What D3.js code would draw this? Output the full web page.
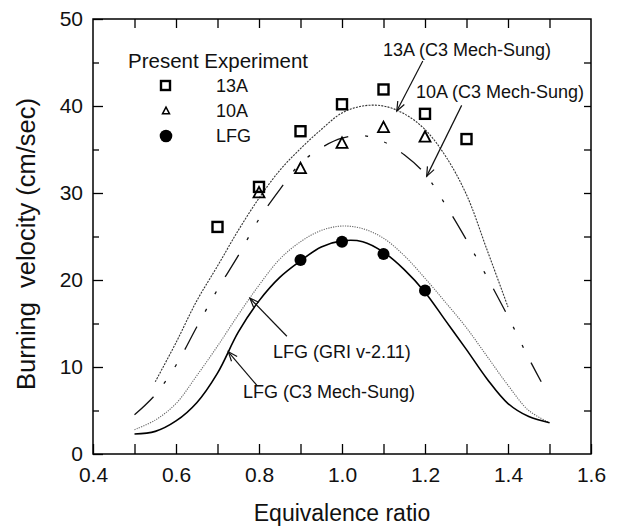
<!DOCTYPE html>
<html>
<head>
<meta charset="utf-8">
<script src="https://cdn.jsdelivr.net/npm/d3@7"></script>
<style>
  body { margin: 0; background: #fff; }
  svg { display: block; font-family: Arial, 'Liberation Sans', Helvetica, sans-serif; }
  .frame { fill: none; stroke: #000; stroke-width: 1.5px; }
  .axis path { display: none; }
  .axis line { stroke: #000; stroke-width: 1.3px; }
  .axis text { font-size: 21px; fill: #111; }
  .curve { fill: none; }
  .note { font-size: 18px; fill: #111; }
  .arrow { stroke: #111; stroke-width: 1.2px; fill: none; }
</style>
</head>
<body>
<svg id="chart" width="617" height="531"></svg>
<script>
// model curves (C3 Mech-Sung / GRI)
const phiLFG = [0.50, 0.55, 0.60, 0.65, 0.70, 0.75, 0.80, 0.85, 0.90, 0.95, 1.00,
                1.05, 1.10, 1.15, 1.20, 1.25, 1.30, 1.35, 1.40, 1.45, 1.50];
const lfgC3  = [2.3, 2.6, 3.8, 5.9, 9.3, 14.0, 17.6, 20.3, 22.2, 23.8, 24.5,
                24.4, 23.2, 21.2, 18.6, 15.3, 12.0, 8.6, 5.8, 4.3, 3.6];
const lfgGRI = [2.8, 3.9, 5.8, 9.0, 12.4, 16.0, 19.4, 22.4, 24.4, 25.7, 26.2,
                25.9, 24.8, 22.8, 20.2, 17.4, 14.5, 11.2, 7.9, 5.0, 3.6];

const phi13A = [0.55, 0.60, 0.65, 0.70, 0.75, 0.80, 0.85, 0.90, 0.95, 1.00,
                1.05, 1.10, 1.15, 1.20, 1.25, 1.30, 1.35, 1.40];
const c3_13A = [8.3, 12.8, 17.6, 21.6, 25.7, 29.4, 32.6, 35.1, 37.3, 39.2,
                40.0, 40.0, 39.1, 37.3, 34.2, 29.8, 23.4, 16.9];

const phi10A = [0.50, 0.55, 0.60, 0.65, 0.70, 0.75, 0.80, 0.85, 0.90, 0.95, 1.00,
                1.05, 1.10, 1.15, 1.20, 1.25, 1.30, 1.35, 1.40, 1.45, 1.48];
const c3_10A = [4.5, 6.8, 10.2, 14.6, 18.9, 22.8, 27.0, 30.4, 33.4, 35.2, 36.3,
                36.6, 35.9, 34.4, 32.2, 28.6, 24.6, 20.3, 15.8, 11.0, 8.3];

// present experiment
const phiExp13A = [0.7, 0.8, 0.9, 1.0, 1.1, 1.2, 1.3];
const exp13A    = [26.1, 30.7, 37.1, 40.2, 41.9, 39.1, 36.2];
const phiExp10A = [0.8, 0.9, 1.0, 1.1, 1.2];
const exp10A    = [30.0, 32.8, 35.7, 37.5, 36.4];
const phiExpLFG = [0.9, 1.0, 1.1, 1.2];
const expLFG    = [22.3, 24.4, 23.0, 18.8];

const xTicks = [0.4, 0.5, 0.6, 0.7, 0.8, 0.9, 1.0, 1.1, 1.2, 1.3, 1.4, 1.5, 1.6];
const yMajor = [0, 10, 20, 30, 40, 50];
const yMinor = [5, 15, 25, 35, 45];
const yAll   = [0, 5, 10, 15, 20, 25, 30, 35, 40, 45, 50];

const margin = { top: 19, left: 93 };
const width = 498, height = 435;

const svg = d3.select('#chart');
const g = svg.append('g').attr('transform', `translate(${margin.left},${margin.top})`);

const x = d3.scaleLinear().domain([0.4, 1.6]).range([0, width]);
const y = d3.scaleLinear().domain([0, 50]).range([height, 0]);

const zip = (xs, ys) => xs.map((v, i) => [v, ys[i]]);
const line = d3.line()
    .x(d => x(d[0]))
    .y(d => y(d[1]))
    .curve(d3.curveCatmullRom.alpha(0.5));

// axes, ticks pointing inward
const evenLabel = d => (Math.round(d * 10) % 2 === 0 ? d3.format('.1f')(d) : '');

g.append('g').attr('class', 'axis')
    .attr('transform', `translate(0,${height})`)
    .call(d3.axisBottom(x).tickValues(xTicks).tickFormat(evenLabel)
        .tickSizeInner(-10).tickSizeOuter(0).tickPadding(13));

g.append('g').attr('class', 'axis')
    .call(d3.axisTop(x).tickValues(xTicks.slice(1, -1)).tickFormat('')
        .tickSizeInner(-9).tickSizeOuter(0));

g.append('g').attr('class', 'axis')
    .call(d3.axisLeft(y).tickValues(yMajor).tickFormat(d3.format('d'))
        .tickSizeInner(-10).tickSizeOuter(0).tickPadding(10));

g.append('g').attr('class', 'axis')
    .call(d3.axisLeft(y).tickValues(yMinor).tickFormat('')
        .tickSizeInner(-6).tickSizeOuter(0));

g.append('g').attr('class', 'axis')
    .attr('transform', `translate(${width},0)`)
    .call(d3.axisRight(y).tickValues(yAll.slice(1, -1)).tickFormat('')
        .tickSizeInner(-7).tickSizeOuter(0));

g.append('rect').attr('class', 'frame')
    .attr('width', width).attr('height', height);

// axis titles
svg.append('text')
    .attr('x', margin.left + width / 2).attr('y', 521)
    .attr('text-anchor', 'middle')
    .style('font-size', '23px').style('fill', '#111')
    .text('Equivalence ratio');

svg.append('text')
    .attr('transform', 'translate(35,244) rotate(-90)')
    .attr('text-anchor', 'middle')
    .style('font-size', '25.5px').style('fill', '#111')
    .attr('xml:space', 'preserve')
    .text('Burning  velocity (cm/sec)');

// model curves
const curves = [
    { pts: zip(phi13A, c3_13A), stroke: '#333', w: 1.1, dash: '2,1.2' },
    { pts: zip(phi10A, c3_10A), stroke: '#111', w: 1.3, dash: '26,17,3,17,3,17' },
    { pts: zip(phiLFG, lfgGRI), stroke: '#666', w: 1.1, dash: '1.2,1.2' },
    { pts: zip(phiLFG, lfgC3),  stroke: '#000', w: 1.6, dash: null }
];

g.selectAll('path.curve')
    .data(curves)
    .enter().append('path')
    .attr('class', 'curve')
    .attr('d', d => line(d.pts))
    .attr('stroke', d => d.stroke)
    .attr('stroke-width', d => d.w)
    .attr('stroke-dasharray', d => d.dash);

// experimental points
const sq = 10, tri = 11;
g.selectAll('rect.p13')
    .data(zip(phiExp13A, exp13A))
    .enter().append('rect')
    .attr('x', d => x(d[0]) - sq / 2).attr('y', d => y(d[1]) - sq / 2)
    .attr('width', sq).attr('height', sq)
    .attr('fill', 'none').attr('stroke', '#000').attr('stroke-width', 2.4);

const triPath = s => `M0,${-s * 0.55}L${s / 2},${s * 0.4}L${-s / 2},${s * 0.4}Z`;
g.selectAll('path.p10')
    .data(zip(phiExp10A, exp10A))
    .enter().append('path')
    .attr('transform', d => `translate(${x(d[0])},${y(d[1])})`)
    .attr('d', triPath(tri))
    .attr('fill', 'none').attr('stroke', '#000').attr('stroke-width', 1.8);

g.selectAll('circle.pl')
    .data(zip(phiExpLFG, expLFG))
    .enter().append('circle')
    .attr('cx', d => x(d[0])).attr('cy', d => y(d[1]))
    .attr('r', 6).attr('fill', '#000');

// legend
const leg = svg.append('g');
leg.append('text').attr('x', 128).attr('y', 68)
    .style('font-size', '20.5px').style('fill', '#111').text('Present Experiment');
leg.append('rect').attr('x', 161).attr('y', 81).attr('width', 9).attr('height', 9)
    .attr('fill', 'none').attr('stroke', '#000').attr('stroke-width', 2.4);
leg.append('path').attr('transform', 'translate(166,111)').attr('d', triPath(7))
    .attr('fill', 'none').attr('stroke', '#000').attr('stroke-width', 1.5);
leg.append('circle').attr('cx', 166).attr('cy', 136).attr('r', 6.3).attr('fill', '#000');
const legLabels = ['13A', '10A', 'LFG'];
leg.selectAll('text.item')
    .data(legLabels)
    .enter().append('text')
    .attr('x', 216).attr('y', (d, i) => 92 + i * 25)
    .style('font-size', '18px').style('fill', '#111')
    .text(d => d);

// annotations with open arrowheads
function curveAt(phis, vals, p) {
    const i = d3.bisectLeft(phis, p);
    const t = (p - phis[i - 1]) / (phis[i] - phis[i - 1]);
    return vals[i - 1] + t * (vals[i] - vals[i - 1]);
}

const notes = [
    { text: '13A (C3 Mech-Sung)', phi: 1.132, v: curveAt(phi13A, c3_13A, 1.132), dx: 26, dy: -50, tx: 383, ty: 56 },
    { text: '10A (C3 Mech-Sung)', phi: 1.204, v: curveAt(phi10A, c3_10A, 1.204), dx: 35, dy: -71, tx: 416, ty: 98 },
    { text: 'LFG (GRI v-2.11)', phi: 0.778, v: curveAt(phiLFG, lfgGRI, 0.778), dx: 37, dy: 38, tx: 273, ty: 358 },
    { text: 'LFG (C3 Mech-Sung)', phi: 0.726, v: curveAt(phiLFG, lfgC3, 0.726), dx: 29, dy: 34, tx: 243, ty: 398 }
];

notes.forEach(n => {
    const x0 = margin.left + x(n.phi), y0 = margin.top + y(n.v);
    const x1 = x0 + n.dx, y1 = y0 + n.dy;
    const ang = Math.atan2(y1 - y0, x1 - x0);
    const head = 10, spread = 0.38;
    svg.append('line').attr('class', 'arrow')
        .attr('x1', x1).attr('y1', y1).attr('x2', x0).attr('y2', y0);
    svg.append('path').attr('class', 'arrow')
        .attr('d', `M${x0 + head * Math.cos(ang - spread)},${y0 + head * Math.sin(ang - spread)}` +
                   `L${x0},${y0}` +
                   `L${x0 + head * Math.cos(ang + spread)},${y0 + head * Math.sin(ang + spread)}`);
    svg.append('text').attr('class', 'note')
        .attr('x', n.tx).attr('y', n.ty).text(n.text);
});
</script>
</body>
</html>
